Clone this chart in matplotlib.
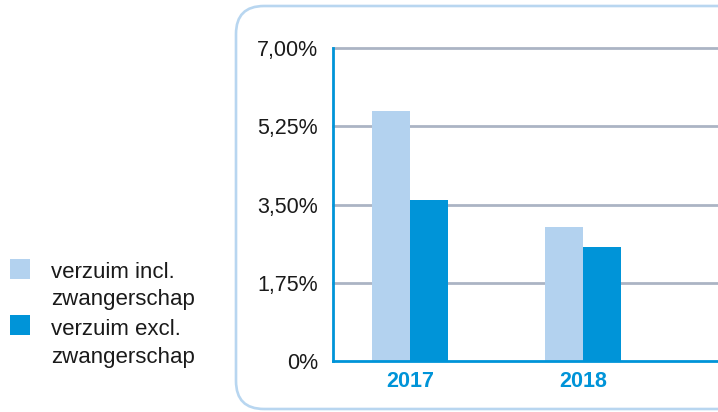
import matplotlib
matplotlib.use("Agg")
import matplotlib.pyplot as plt
import numpy as np
from matplotlib.patches import FancyBboxPatch, Rectangle
from matplotlib.transforms import IdentityTransform

plt.rcParams['font.family'] = ['Liberation Sans', 'DejaVu Sans']

years = ["2017", "2018"]
incl = [5.60, 3.00]
excl = [3.60, 2.55]
series_labels = ["verzuim incl.\nzwangerschap", "verzuim excl.\nzwangerschap"]
yticks = [0, 1.75, 3.50, 5.25, 7.00]
ytick_labels = ["0%", "1,75%", "3,50%", "5,25%", "7,00%"]

light = "#b3d2ef"
dark = "#0094d8"
grid_c = "#abb4c4"
box_c = "#b8d6f0"
text_c = "#1a1a1a"

W, H = 718, 412
fig = plt.figure(figsize=(W / 100, H / 100), dpi=100)

# rounded frame
box = FancyBboxPatch((236, 3), 560, H - 9,
                     boxstyle="round,pad=0,rounding_size=28",
                     transform=IdentityTransform(), fill=False,
                     edgecolor=box_c, linewidth=1.9)
fig.add_artist(box)

ax_left, ax_right = 333, 725
ax = fig.add_axes([ax_left / W, 1 - 361 / H, (ax_right - ax_left) / W, (361 - 48) / H])
x = np.arange(len(years))
bw = 0.218
ax.bar(x - bw / 2, incl, bw, color=light, zorder=3)
ax.bar(x + bw / 2, excl, bw, color=dark, zorder=3)
x0 = -0.445
ax.set_xlim(x0, x0 + (ax_right - ax_left) / 173.0)
ax.set_ylim(0, 7.0)

for t in yticks[1:]:
    ax.axhline(t, color=grid_c, linewidth=2.0, zorder=1, clip_on=False)

ax.set_yticks(yticks)
ax.set_yticklabels(ytick_labels, fontsize=15.5, color=text_c)
ax.set_xticks(x)
ax.set_xticklabels(years, fontsize=15.5, fontweight="bold", color=dark)
ax.tick_params(axis="y", length=0, pad=10.8)
ax.tick_params(axis="x", length=0, pad=7)

for s in ["top", "right"]:
    ax.spines[s].set_visible(False)
for s in ["left", "bottom"]:
    ax.spines[s].set_color(dark)
    ax.spines[s].set_linewidth(2.0)
    ax.spines[s].set_zorder(4)

# legend
colors = [light, dark]
sq_top = [259, 315]
base_first = [278, 335]
for lab, c, top, b in zip(series_labels, colors, sq_top, base_first):
    fig.add_artist(Rectangle((10, H - top - 20), 20, 20, transform=IdentityTransform(),
                             facecolor=c, edgecolor="none"))
    for i, line in enumerate(lab.split("\n")):
        fig.text(51 / W, 1 - (b + i * 27.5) / H, line, fontsize=16, color=text_c,
                 va="baseline", ha="left")

fig.savefig("out.png", dpi=100)
